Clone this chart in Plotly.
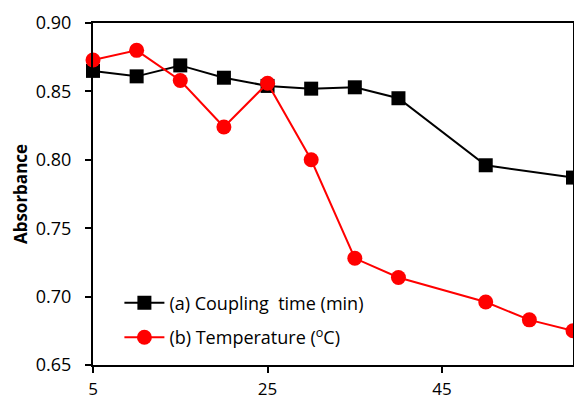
import plotly.graph_objects as go

# Data
x_a = [5, 10, 15, 20, 25, 30, 35, 40, 50, 60]
y_a = [0.865, 0.861, 0.869, 0.860, 0.854, 0.852, 0.853, 0.845, 0.796, 0.787]
x_b = [5, 10, 15, 20, 25, 30, 35, 40, 50, 55, 60]
y_b = [0.873, 0.880, 0.858, 0.824, 0.856, 0.800, 0.728, 0.714, 0.696, 0.683, 0.675]
name_a = "(a) Coupling\u00a0\u00a0time (min)"
name_b = "(b) Temperature (<sup>o</sup>C)"
x_ticks = [5, 25, 45]
y_ticks = [0.65, 0.70, 0.75, 0.80, 0.85, 0.90]
y_tick_labels = ["0.65", "0.70", "0.75", "0.80", "0.85", "0.90"]

FONT = "Open Sans"

fig = go.Figure()
fig.add_trace(go.Scatter(
    x=x_a, y=y_a, name=name_a, mode="lines+markers",
    line=dict(color="black", width=2),
    marker=dict(symbol="square", size=14, color="black"),
    legendgroup="a", cliponaxis=False,
))
fig.add_trace(go.Scatter(
    x=x_b, y=y_b, name=name_b, mode="lines+markers",
    line=dict(color="#ff0000", width=2),
    marker=dict(symbol="circle", size=15, color="#ff0000"),
    legendgroup="b", cliponaxis=False,
))

fig.update_layout(
    width=574, height=401,
    margin=dict(l=93, r=1, t=23, b=36),
    paper_bgcolor="white", plot_bgcolor="white",
    font=dict(family=FONT, size=18, color="black"),
    showlegend=True,
    legend=dict(
        x=0.055, y=0.235, xanchor="left", yanchor="top",
        bgcolor="rgba(0,0,0,0)", font=dict(family=FONT, size=18, color="black"),
        tracegroupgap=8, itemwidth=40,
    ),
    xaxis=dict(
        range=[5, 60], tickmode="array", tickvals=x_ticks,
        showgrid=False, zeroline=False, automargin=False,
        showline=True, linecolor="black", linewidth=2, mirror=True,
        ticks="outside", ticklen=6, tickwidth=2, tickcolor="black",
        ticklabelstandoff=2,
        tickfont=dict(family=FONT, size=17),
    ),
    yaxis=dict(
        range=[0.65, 0.90], tickmode="array", tickvals=y_ticks, ticktext=y_tick_labels,
        showgrid=False, zeroline=False, automargin=False,
        showline=True, linecolor="black", linewidth=2, mirror=True,
        ticks="outside", ticklen=6, tickwidth=2, tickcolor="black",
        ticklabelstandoff=10,
        tickfont=dict(family=FONT, size=18),
        title=dict(text="<b>Absorbance</b>", font=dict(family=FONT, size=17), standoff=4),
    ),
)

fig.write_html("out.html", config={"displayModeBar": False},
               post_script="document.body.style.margin='0';")
